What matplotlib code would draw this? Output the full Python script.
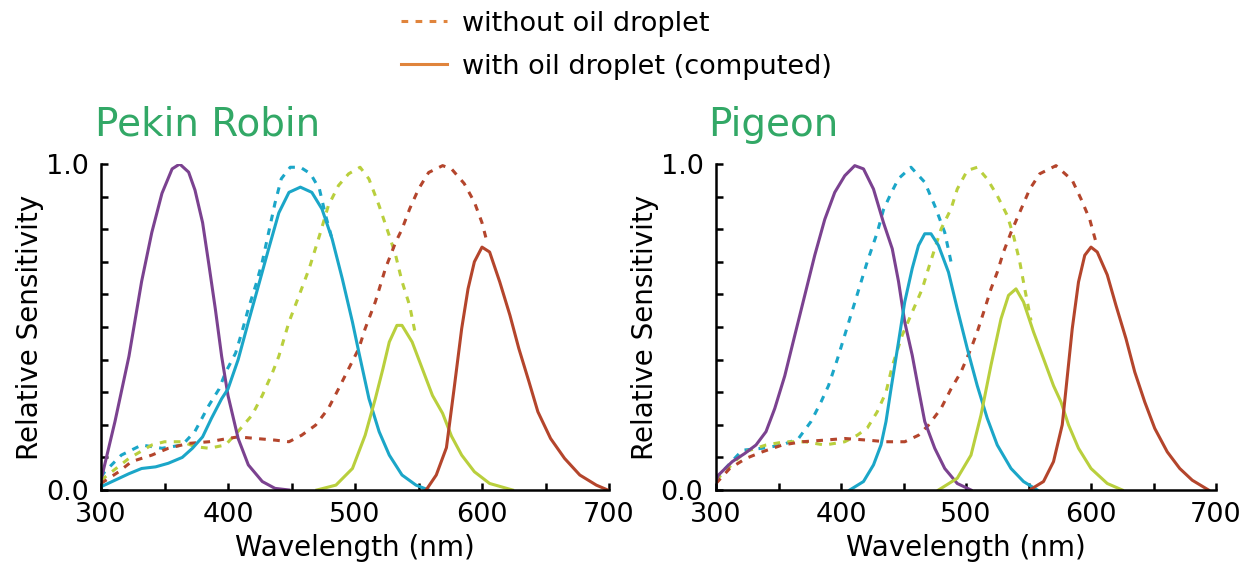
import matplotlib
matplotlib.use('Agg')
import matplotlib.pyplot as plt
from matplotlib.lines import Line2D

# Pekin Robin (bước sóng nm, độ nhạy tương đối)
ROBIN_UV_WL = [300, 311, 322, 332, 340, 348, 356, 362, 369, 374, 380, 385, 390, 395, 400, 408, 416, 427, 437, 448]
ROBIN_UV = [0.03, 0.21, 0.41, 0.64, 0.79, 0.91, 0.985, 1.0, 0.975, 0.92, 0.82, 0.69, 0.556, 0.41, 0.29, 0.158, 0.077, 0.026, 0.005, 0.0]

ROBIN_S_WL = [300, 311, 322, 332, 343, 353, 364, 372, 380, 387, 395, 400, 408, 416, 424, 432, 440, 448, 457, 466,
              474, 482, 490, 498, 503, 511, 519, 527, 537, 548, 558]
ROBIN_S = [0.01, 0.03, 0.05, 0.066, 0.071, 0.082, 0.10, 0.128, 0.163, 0.22, 0.28, 0.31, 0.40, 0.515, 0.627, 0.74,
           0.85, 0.913, 0.929, 0.913, 0.862, 0.77, 0.648, 0.515, 0.423, 0.28, 0.179, 0.107, 0.046, 0.015, 0.0]
ROBIN_S_RAW_WL = [300, 303, 316, 332, 348, 364, 374, 385, 393, 398, 406, 411, 416, 422, 427, 432, 437, 442, 449, 457,
                  465, 472, 477, 482]
ROBIN_S_RAW = [0.04, 0.056, 0.107, 0.138, 0.128, 0.138, 0.18, 0.26, 0.31, 0.36, 0.42, 0.485, 0.556, 0.63, 0.70, 0.79,
               0.88, 0.955, 0.99, 0.99, 0.97, 0.923, 0.84, 0.77]

ROBIN_M_WL = [470, 485, 498, 508, 516, 522, 527, 533, 537, 545, 553, 561, 569, 576, 584, 594, 606, 624]
ROBIN_M = [0.0, 0.015, 0.066, 0.168, 0.28, 0.372, 0.454, 0.505, 0.505, 0.454, 0.372, 0.29, 0.235, 0.165, 0.107,
           0.056, 0.02, 0.0]
ROBIN_M_RAW_WL = [300, 322, 340, 350, 364, 374, 385, 398, 408, 419, 427, 435, 440, 448, 456, 464, 472, 479, 487, 495,
                  504, 511, 519, 527, 532, 537, 543, 548]
ROBIN_M_RAW = [0.03, 0.097, 0.138, 0.148, 0.148, 0.133, 0.128, 0.138, 0.18, 0.23, 0.29, 0.36, 0.41, 0.515, 0.597,
               0.68, 0.78, 0.872, 0.934, 0.97, 0.99, 0.954, 0.872, 0.78, 0.72, 0.64, 0.566, 0.47]

ROBIN_L_WL = [556, 564, 572, 578, 584, 589, 594, 600, 606, 614, 622, 629, 637, 644, 654, 665, 677, 690, 699]
ROBIN_L = [0.0, 0.046, 0.13, 0.31, 0.495, 0.617, 0.70, 0.745, 0.73, 0.638, 0.536, 0.434, 0.332, 0.24, 0.158, 0.097,
           0.046, 0.015, 0.0]
ROBIN_L_RAW_WL = [300, 314, 324, 340, 353, 369, 385, 400, 408, 422, 437, 448, 458, 469, 479, 487, 495, 503, 508, 516,
                  524, 532, 537, 543, 550, 558, 569, 576, 586, 594, 600, 604]
ROBIN_L_RAW = [0.02, 0.056, 0.087, 0.107, 0.128, 0.143, 0.148, 0.158, 0.163, 0.158, 0.153, 0.148, 0.168, 0.199, 0.25,
               0.31, 0.372, 0.434, 0.495, 0.577, 0.68, 0.76, 0.80, 0.862, 0.923, 0.974, 0.995, 0.985, 0.94, 0.883,
               0.82, 0.76]

# Pigeon
PIGEON_V_WL = [300, 302, 313, 323, 332, 340, 347, 355, 363, 371, 379, 387, 395, 403, 411, 418, 426, 434, 441, 446,
               451, 457, 462, 467, 475, 483, 493, 504]
PIGEON_V = [0.03, 0.046, 0.087, 0.112, 0.138, 0.179, 0.25, 0.35, 0.474, 0.597, 0.72, 0.83, 0.913, 0.964, 0.995,
            0.985, 0.923, 0.82, 0.74, 0.64, 0.515, 0.413, 0.31, 0.21, 0.128, 0.066, 0.02, 0.0]

PIGEON_S_WL = [407, 418, 426, 432, 436, 440, 446, 451, 457, 462, 467, 472, 478, 486, 493, 501, 509, 517, 525, 536,
               546, 557]
PIGEON_S = [0.0, 0.026, 0.077, 0.138, 0.21, 0.31, 0.454, 0.577, 0.68, 0.75, 0.786, 0.786, 0.75, 0.668, 0.556, 0.434,
            0.32, 0.22, 0.138, 0.066, 0.026, 0.0]
PIGEON_S_RAW_WL = [300, 305, 321, 337, 353, 366, 376, 384, 390, 397, 405, 413, 421, 429, 434, 440, 446, 456, 467,
                   475, 483, 488]
PIGEON_S_RAW = [0.03, 0.056, 0.122, 0.128, 0.138, 0.158, 0.21, 0.27, 0.32, 0.40, 0.50, 0.60, 0.70, 0.79, 0.86, 0.91,
                0.955, 0.99, 0.944, 0.872, 0.79, 0.70]

PIGEON_M_WL = [478, 493, 504, 512, 520, 528, 534, 540, 546, 554, 562, 570, 576, 582, 590, 600, 613, 625]
PIGEON_M = [0.0, 0.036, 0.107, 0.23, 0.383, 0.525, 0.597, 0.617, 0.577, 0.485, 0.403, 0.32, 0.27, 0.2, 0.128, 0.066,
            0.02, 0.0]
PIGEON_M_RAW_WL = [300, 323, 340, 355, 371, 387, 403, 413, 421, 429, 436, 441, 449, 457, 465, 470, 475, 480, 488,
                   493, 501, 509, 517, 525, 533, 538, 543, 547, 552]
PIGEON_M_RAW = [0.03, 0.117, 0.138, 0.148, 0.148, 0.138, 0.148, 0.168, 0.19, 0.24, 0.30, 0.38, 0.475, 0.546, 0.617,
                0.68, 0.74, 0.80, 0.862, 0.923, 0.98, 0.99, 0.954, 0.903, 0.842, 0.78, 0.70, 0.617, 0.52]

PIGEON_L_WL = [551, 562, 570, 577, 580, 585, 590, 595, 600, 605, 613, 620, 628, 635, 643, 651, 661, 671, 681, 694]
PIGEON_L = [0.0, 0.026, 0.087, 0.2, 0.31, 0.495, 0.638, 0.72, 0.745, 0.73, 0.66, 0.566, 0.464, 0.362, 0.27, 0.189,
            0.117, 0.066, 0.03, 0.0]
PIGEON_L_RAW_WL = [300, 311, 324, 337, 353, 369, 387, 403, 421, 436, 451, 462, 470, 480, 488, 496, 504, 509, 515, 520,
                   525, 530, 536, 543, 551, 559, 572, 585, 592, 599, 604]
PIGEON_L_RAW = [0.02, 0.066, 0.097, 0.117, 0.138, 0.148, 0.153, 0.158, 0.153, 0.148, 0.148, 0.168, 0.199, 0.25, 0.31,
                0.362, 0.434, 0.485, 0.556, 0.617, 0.668, 0.73, 0.79, 0.852, 0.923, 0.97, 0.995, 0.95, 0.893, 0.83,
                0.76]

PURPLE = '#7b4290'
CYAN = '#1ba6c8'
YELLOW = '#b9cf3d'
RED = '#b4452c'
ORANGE = '#e0843c'
GREEN = '#32a866'
DASH = (0, (2.2, 2.4))


def draw_panel(ax, solid, dashed):
    for wl, v, c in dashed:
        ax.plot(wl, v, color=c, lw=2.2, linestyle=DASH)
    for wl, v, c in solid:
        ax.plot(wl, v, color=c, lw=2.2)
    ax.set_xlim(300, 700)
    ax.set_ylim(0, 1.0)
    ax.set_xticks([300, 400, 500, 600, 700])
    ax.set_xticks([350, 450, 550, 650], minor=True)
    ax.set_yticks([0.0, 1.0])
    ax.set_yticklabels(['0.0', '1.0'])
    ax.set_yticks([i / 10 for i in range(1, 10)], minor=True)
    ax.tick_params(which='both', direction='in', length=5, width=1.8, labelsize=19.5)
    ax.tick_params(axis='x', pad=9)
    ax.tick_params(axis='y', pad=9)
    for s in ['top', 'right']:
        ax.spines[s].set_visible(False)
    for s in ['left', 'bottom']:
        ax.spines[s].set_linewidth(1.8)
    ax.set_xlabel('Wavelength (nm)', fontsize=20, labelpad=4)
    ax.set_ylabel('Relative Sensitivity', fontsize=20, labelpad=1)


fig = plt.figure(figsize=(12.45, 5.7), dpi=100)
ax1 = fig.add_axes([101 / 1245, 1 - 490 / 570, 508 / 1245, 326 / 570])
ax2 = fig.add_axes([716 / 1245, 1 - 490 / 570, 500 / 1245, 326 / 570])

draw_panel(ax1,
           [(ROBIN_UV_WL, ROBIN_UV, PURPLE), (ROBIN_S_WL, ROBIN_S, CYAN),
            (ROBIN_M_WL, ROBIN_M, YELLOW), (ROBIN_L_WL, ROBIN_L, RED)],
           [(ROBIN_S_RAW_WL, ROBIN_S_RAW, CYAN), (ROBIN_M_RAW_WL, ROBIN_M_RAW, YELLOW),
            (ROBIN_L_RAW_WL, ROBIN_L_RAW, RED)])
draw_panel(ax2,
           [(PIGEON_V_WL, PIGEON_V, PURPLE), (PIGEON_S_WL, PIGEON_S, CYAN),
            (PIGEON_M_WL, PIGEON_M, YELLOW), (PIGEON_L_WL, PIGEON_L, RED)],
           [(PIGEON_S_RAW_WL, PIGEON_S_RAW, CYAN), (PIGEON_M_RAW_WL, PIGEON_M_RAW, YELLOW),
            (PIGEON_L_RAW_WL, PIGEON_L_RAW, RED)])

fig.text(95 / 1245, 1 - 136 / 570, 'Pekin Robin', color=GREEN, fontsize=28, va='baseline', ha='left')
fig.text(708 / 1245, 1 - 136 / 570, 'Pigeon', color=GREEN, fontsize=28, va='baseline', ha='left')

handles = [Line2D([], [], color=ORANGE, lw=2.2, linestyle=DASH),
           Line2D([], [], color=ORANGE, lw=2.2)]
fig.legend(handles, ['without oil droplet', 'with oil droplet (computed)'],
           loc='upper left', bbox_to_anchor=(382 / 1245, 1 + 8 / 570), frameon=False,
           fontsize=19.5, handlelength=1.7, handletextpad=0.55, labelspacing=0.62, borderpad=0.2)

plt.savefig('out.png', dpi=100)
